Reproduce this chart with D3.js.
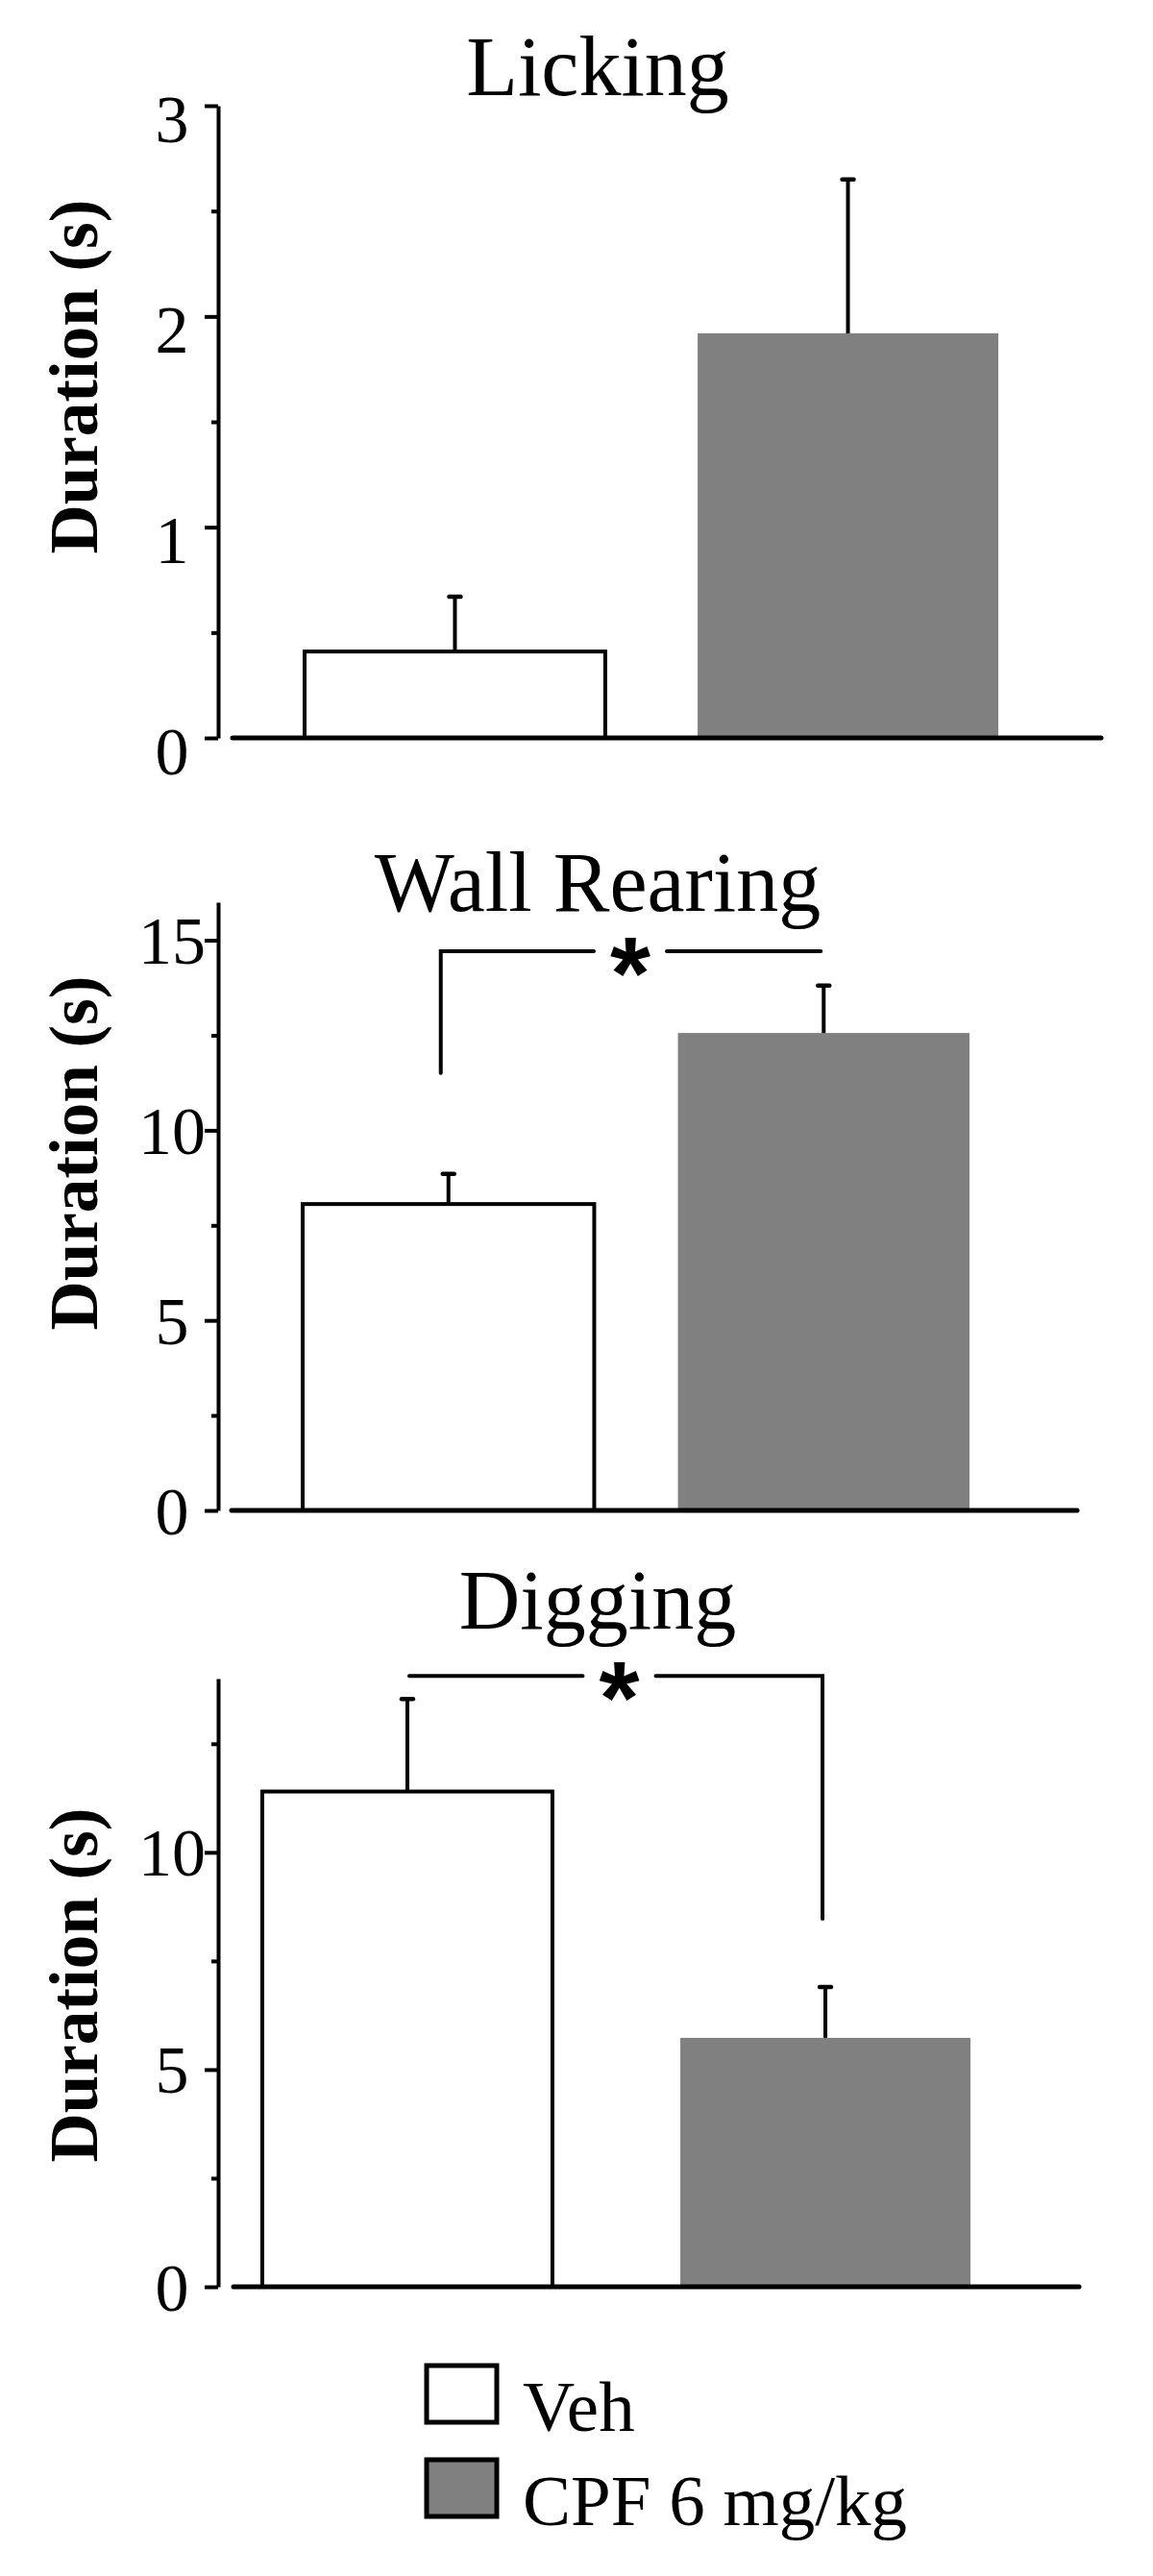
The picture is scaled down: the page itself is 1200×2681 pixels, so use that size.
<!DOCTYPE html>
<html>
<head>
<meta charset="utf-8">
<script src="https://cdn.jsdelivr.net/npm/d3@7"></script>
<style>
  html, body { margin: 0; padding: 0; background: #fff; }
  svg { display: block; }
</style>
</head>
<body>
<svg id="chart" width="1200" height="2681"></svg>
<script>
// ---------------- DATA ----------------
const categories = ["Veh", "CPF 6 mg/kg"];
const panelTitles = ["Licking", "Wall Rearing", "Digging"];
const yAxisLabel = "Duration (s)";

const lickingMeans = [0.41, 1.92];
const lickingSEM   = [0.26, 0.73];
const rearingMeans = [8.06, 12.56];
const rearingSEM   = [0.79, 1.25];
const diggingMeans = [11.40, 5.73];
const diggingSEM   = [2.13, 1.17];

const lickingTicks = [0, 1, 2, 3];
const rearingTicks = [0, 5, 10, 15];
const diggingTicks = [0, 5, 10];
const lickingMinorTicks = [0.5, 1.5, 2.5];
const rearingMinorTicks = [2.5, 7.5, 12.5];
const diggingMinorTicks = [2.5, 7.5, 12.5];
const yMaxima = [3, 16, 14];

// significance brackets: level of horizontal bar, and where the drop ends (null = none)
const rearingSig = { label: "*", level: 14.71, leftEnd: 11.51, rightEnd: null };
const diggingSig = { label: "*", level: 14.06, leftEnd: null, rightEnd: 8.47 };

const barColors = ["#ffffff", "#808080"];

// ---------------- LAYOUT ----------------
const panels = [
  { title: panelTitles[0], means: lickingMeans, sem: lickingSEM, ticks: lickingTicks, minor: lickingMinorTicks, ymax: yMaxima[0],
    yRange: [768, 110], xRange: [317, 1039], padInner: 0.235, base: [242, 1146], titleY: 99, labelY: 392, tickDy: 37, sig: null },
  { title: panelTitles[1], means: rearingMeans, sem: rearingSEM, ticks: rearingTicks, minor: rearingMinorTicks, ymax: yMaxima[1],
    yRange: [1572, 939], xRange: [315, 1009], padInner: 0.223, base: [241, 1121], titleY: 948, labelY: 1200, tickDy: 24, sig: rearingSig },
  { title: panelTitles[2], means: diggingMeans, sem: diggingSEM, ticks: diggingTicks, minor: diggingMinorTicks, ymax: yMaxima[2],
    yRange: [2380, 1747], xRange: [273, 1010], padInner: 0.306, base: [243, 1123], titleY: 1695, labelY: 2066, tickDy: 24, sig: diggingSig }
];
const axisX = 227;
const serif = "'Liberation Serif', 'Times New Roman', Times, serif";
const sans = "'Liberation Sans', Arial, Helvetica, sans-serif";

const svg = d3.select("#chart");
svg.append("rect").attr("width", 1200).attr("height", 2681).attr("fill", "#fff");

panels.forEach(p => {
  const g = svg.append("g");
  const y = d3.scaleLinear().domain([0, p.ymax]).range(p.yRange);
  const x = d3.scaleBand().domain(categories).range(p.xRange).paddingInner(p.padInner).paddingOuter(0);
  const cx = c => x(c) + x.bandwidth() / 2;

  // title
  g.append("text").attr("x", 622).attr("y", p.titleY)
    .attr("text-anchor", "middle").attr("font-family", serif).attr("font-size", 88)
    .text(p.title);

  // y label
  g.append("text").attr("transform", `translate(101,${p.labelY}) rotate(-90)`)
    .attr("text-anchor", "middle").attr("font-family", serif).attr("font-weight", "bold")
    .attr("font-size", 71).text(yAxisLabel);

  // y axis (major)
  const ax = g.append("g").attr("transform", `translate(${axisX},0)`)
    .call(d3.axisLeft(y).tickValues(p.ticks).tickSize(14).tickSizeOuter(0).tickFormat(d3.format("d")));
  ax.select(".domain").attr("stroke", "#000").attr("stroke-width", 4);
  ax.selectAll(".tick line").attr("stroke", "#000").attr("stroke-width", 4);
  ax.selectAll(".tick text").attr("x", -48).attr("dy", null).attr("y", p.tickDy)
    .attr("text-anchor", "middle").attr("font-family", serif).attr("font-size", 70).attr("fill", "#000");

  // minor ticks
  const mx = g.append("g").attr("transform", `translate(${axisX},0)`)
    .call(d3.axisLeft(y).tickValues(p.minor).tickSize(7).tickFormat(""));
  mx.select(".domain").remove();
  mx.selectAll(".tick line").attr("stroke", "#000").attr("stroke-width", 4);

  // bars
  g.selectAll("rect.bar").data(categories).enter().append("rect")
    .attr("x", c => x(c)).attr("width", x.bandwidth())
    .attr("y", (c, i) => y(p.means[i])).attr("height", (c, i) => y(0) - y(p.means[i]))
    .attr("fill", (c, i) => barColors[i])
    .attr("stroke", (c, i) => i === 0 ? "#000" : "none").attr("stroke-width", 4);

  // error bars
  categories.forEach((c, i) => {
    const top = y(p.means[i] + p.sem[i]);
    g.append("line").attr("x1", cx(c)).attr("x2", cx(c)).attr("y1", y(p.means[i])).attr("y2", top)
      .attr("stroke", "#000").attr("stroke-width", 4);
    g.append("line").attr("x1", cx(c) - 6).attr("x2", cx(c) + 6).attr("y1", top).attr("y2", top)
      .attr("stroke", "#000").attr("stroke-width", 4.5).attr("stroke-linecap", "round");
  });

  // baseline
  g.append("line").attr("x1", p.base[0]).attr("x2", p.base[1]).attr("y1", y(0)).attr("y2", y(0))
    .attr("stroke", "#000").attr("stroke-width", 5).attr("stroke-linecap", "round");

  // significance bracket
  if (p.sig) {
    const xl = cx(categories[0]) - 8 * (p.sig.leftEnd !== null);
    const xr = cx(categories[1]) - 3;
    const ly = y(p.sig.level);
    const mid = (cx(categories[0]) + cx(categories[1])) / 2 + (p.sig.leftEnd !== null ? -6 : 3);
    const gap = 38;
    const path = d3.path();
    if (p.sig.leftEnd !== null) { path.moveTo(xl, y(p.sig.leftEnd)); path.lineTo(xl, ly); }
    else path.moveTo(xl + 2, ly);
    path.lineTo(mid - gap, ly);
    path.moveTo(mid + gap, ly);
    path.lineTo(xr, ly);
    if (p.sig.rightEnd !== null) path.lineTo(xr, y(p.sig.rightEnd));
    g.append("path").attr("d", path.toString()).attr("fill", "none")
      .attr("stroke", "#000").attr("stroke-width", 4).attr("stroke-linecap", "round");
    g.append("text").attr("x", mid).attr("y", ly + 60)
      .attr("text-anchor", "middle").attr("font-family", sans).attr("font-weight", "bold")
      .attr("font-size", 108).text(p.sig.label);
  }
});

// legend
const legend = svg.append("g");
const legendY = [2462, 2560];
categories.forEach((c, i) => {
  legend.append("rect").attr("x", 444).attr("y", legendY[i]).attr("width", 73).attr("height", 59)
    .attr("fill", barColors[i]).attr("stroke", "#000").attr("stroke-width", 5);
  legend.append("text").attr("x", 544).attr("y", legendY[i] + 68)
    .attr("font-family", serif).attr("font-size", 75).text(c);
});
</script>
</body>
</html>
